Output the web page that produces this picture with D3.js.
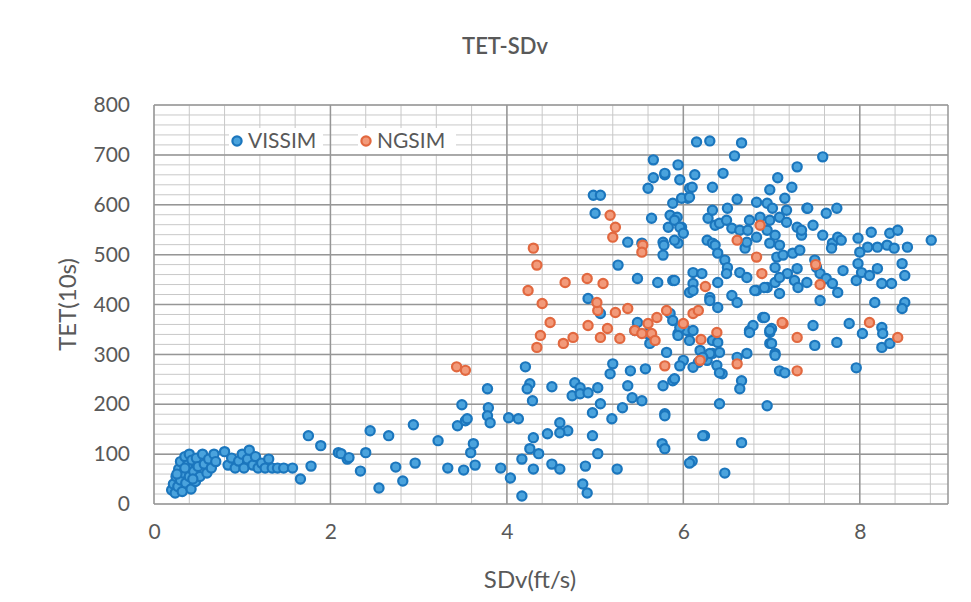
<!DOCTYPE html>
<html>
<head>
<meta charset="utf-8">
<script src="https://cdn.jsdelivr.net/npm/d3@7"></script>
<style>
    body { margin: 0; background: #fff; }
    text { font-family: Lato, "Open Sans", sans-serif; fill: #595959; }
</style>
</head>
<body>
<svg id="chart"></svg>
<script>
const xTicks = [0, 2, 4, 6, 8]
const yTicks = [0, 100, 200, 300, 400, 500, 600, 700, 800]
const seriesNames = ['VISSIM', 'NGSIM']

// VISSIM points [SDv, TET]
const vissim = [
    [0.20,28],[0.22,40],[0.24,22],[0.25,55],[0.27,35],[0.28,70],[0.30,48],[0.30,85],[0.32,25],[0.33,62],
    [0.35,95],[0.36,42],[0.38,78],[0.40,55],[0.40,100],[0.42,30],[0.43,88],[0.45,65],[0.47,45],[0.48,92],
    [0.50,75],[0.52,55],[0.55,100],[0.57,80],[0.60,62],[0.62,90],[0.65,72],[0.68,100],[0.70,85],[0.35,72],
    [0.26,60],[0.44,50],
    [0.80,105],[0.84,78],[0.88,92],[0.92,72],[0.96,86],[1.00,100],[1.02,72],[1.06,90],[1.08,108],[1.12,78],
    [1.15,95],[1.18,72],[1.22,82],[1.26,72],[1.30,90],[1.34,72],[1.40,72],[1.47,72],[1.57,72],[1.66,50],
    [1.78,76],[1.75,137],[1.89,117],[2.09,103],[2.19,90],
    [2.12,101],[2.21,93],[2.34,66],[2.40,103],[2.45,147],[2.55,32],[2.66,137],[2.74,74],[2.82,46],[2.96,82],
    [2.94,159],[3.22,127],[3.33,72],[3.51,68],[3.44,157],[3.53,167],[3.49,199],[3.55,171],[3.59,103],[3.62,121],
    [3.64,78],[3.78,231],[3.79,193],[3.78,177],[3.81,163],[3.93,72],[4.02,173],[4.13,171],[4.04,52],[4.17,16],
    [4.17,90],[4.21,275],[4.26,241],[4.23,231],[4.29,207],[4.30,133],[4.26,111],[4.36,101],[4.30,70],[4.46,141],
    [4.51,235],[4.60,163],[4.69,147],[4.60,143],[4.51,80],[4.60,70],[4.77,243],[4.83,233],[4.74,217],[4.83,221],
    [4.92,223],[5.03,233],[4.97,137],[5.03,101],[4.89,76],[4.86,40],[4.91,22],[5.06,201],[4.97,183],[5.19,171],
    [5.25,70],[5.31,193],[5.37,237],[5.42,213],[5.53,207],[5.20,281],[5.17,261],[5.40,267],[5.57,271],
    [4.98,619],[5.06,619],[5.00,583],[4.92,412],[5.06,382],[5.26,479],[5.37,525],[5.53,523],[5.48,452],[5.48,364],
    [5.45,348],[5.59,342],[5.62,322],[5.64,573],[5.60,633],[5.66,654],[5.66,690],[5.79,660],[5.77,525],[5.77,499],
    [5.71,444],[5.88,448],[5.94,523],[5.94,680],[5.96,650],[6.13,660],[6.07,633],[6.05,613],[6.33,635],[5.88,603],
    [5.85,579],[5.93,575],[5.98,555],[5.83,555],[6.28,573],[6.36,559],[6.27,529],[6.33,523],[6.11,464],[6.21,462],
    [6.07,424],[6.30,414],[5.94,342],[6.04,348],[6.07,328],[6.19,308],[6.33,302],[6.27,288],[6.38,278],[5.77,237],
    [5.88,247],[5.79,181],[5.76,121],[5.79,111],[6.10,86],[6.24,137],[5.78,519],[5.90,529],[6.15,726],[6.30,728],
    [6.66,724],[6.58,698],[5.79,663],[6.10,635],[6.45,663],[7.29,676],[7.07,654],[7.23,635],[6.98,630],[6.61,611],
    [6.50,593],[6.83,605],[6.95,603],[7.01,593],[7.15,613],[7.17,589],[7.40,593],[5.98,613],[6.07,615],[5.90,569],
    [5.96,555],[6.00,543],[6.33,589],[6.41,563],[6.49,569],[6.55,553],[6.64,549],[6.75,569],[6.87,575],[6.98,569],
    [7.09,575],[6.73,549],[6.83,535],[6.95,549],[7.04,539],[7.17,565],[7.29,555],[7.34,539],[6.36,519],[6.39,503],
    [6.47,489],[6.50,474],[6.70,513],[6.72,525],[6.98,523],[7.09,519],[7.06,495],[7.13,499],[7.24,503],[7.32,509],
    [7.29,472],[5.90,448],[6.11,442],[6.39,444],[6.49,462],[6.64,464],[6.72,454],[6.83,428],[6.95,434],[7.04,444],
    [7.09,422],[6.11,428],[6.30,408],[6.39,394],[6.55,418],[6.61,404],[5.85,382],[5.88,368],[6.75,348],[6.90,374],
    [7.00,352],[6.11,348],
    [6.79,358],[6.75,344],[6.98,344],[6.98,322],[7.04,302],[7.09,267],[7.15,263],[6.72,302],[6.61,294],[6.33,328],
    [6.39,324],[6.41,304],[6.30,302],[6.22,294],[6.17,284],[6.11,274],[5.96,354],[5.94,338],[6.00,288],[5.96,277],
    [5.81,304],[5.90,251],[6.44,261],[6.66,247],[6.64,231],[6.41,201],[6.95,197],[5.79,177],[6.22,137],[6.66,123],
    [6.07,82],[6.47,62],[7.58,696],
    [7.41,593],[7.62,583],[7.74,593],[7.47,559],[7.34,549],[7.58,539],[7.69,523],[7.75,535],[7.79,529],[7.68,513],
    [8.13,545],[8.34,543],[8.43,549],[7.98,533],[8.09,515],[8.20,515],[8.31,519],[8.39,513],[8.54,515],[8.81,529],
    [8.00,505],[8.48,482],[8.51,458],[7.49,489],[7.51,474],[7.55,462],[7.62,452],[7.69,442],[7.75,424],[7.55,408],
    [7.81,468],[7.98,482],[8.02,464],[7.96,448],[8.11,458],[8.20,472],[8.25,442],[8.36,442],[8.17,404],[8.51,404],
    [8.48,392],[7.47,358],[7.49,318],[7.74,324],[7.88,362],[8.03,342],[8.25,354],[8.26,342],[8.25,314],[8.34,322],
    [7.96,273],[7.18,462],[7.26,448],[7.30,434],[7.40,444],[7.04,474],[7.09,454],[6.92,434],[6.81,428],[6.92,374],
    [6.98,348],[7.00,322],[7.04,298],[6.41,263]
]

// NGSIM points [SDv, TET]
const ngsim = [
    [3.43,275],[3.53,268],[4.30,513],[4.34,479],[4.24,428],[4.40,402],[4.49,364],[4.38,338],[4.34,314],[4.66,444],
    [4.91,452],[5.09,442],[5.17,579],[5.23,555],[5.20,535],[5.54,519],[5.53,505],[4.92,358],[5.03,388],[5.02,404],
    [5.23,384],[5.37,392],[5.06,334],[5.28,332],[5.14,352],[5.45,348],[5.53,342],[5.60,362],[5.64,342],[5.70,374],
    [5.68,328],[5.81,388],[5.79,277],[6.00,362],[6.11,382],[6.17,388],[6.19,288],[4.75,334],[4.64,322],[6.61,529],
    [6.87,559],[6.83,495],[6.89,462],[6.25,436],[6.61,281],[6.38,344],[7.13,362],[7.29,334],[7.29,267],[7.12,364],
    [8.11,364],[8.43,334],[7.50,480],[7.55,440],[6.20,330]
]

const W = 971, H = 602
const margin = { left: 154, right: 23, top: 105, bottom: 98 }

const svg = d3.select('#chart')
    .attr('width', W)
    .attr('height', H)
    .style('background', '#fff')

const x = d3.scaleLinear().domain([0, 9]).range([margin.left, W - margin.right])
const y = d3.scaleLinear().domain([0, 800]).range([H - margin.bottom, margin.top])

// minor grid
const grid = svg.append('g')
grid.selectAll('.vminor')
    .data(d3.range(0, 9.0001, 0.4))
    .join('line')
    .attr('x1', d => x(d)).attr('x2', d => x(d))
    .attr('y1', y(0)).attr('y2', y(800))
    .attr('stroke', '#c8c8c8').attr('stroke-width', 1)
grid.selectAll('.hminor')
    .data(d3.range(0, 801, 20))
    .join('line')
    .attr('x1', x(0)).attr('x2', x(9))
    .attr('y1', d => y(d)).attr('y2', d => y(d))
    .attr('stroke', '#c8c8c8').attr('stroke-width', 1)

// major grid
grid.append('g').selectAll('line')
    .data(xTicks.concat([9]))
    .join('line')
    .attr('x1', d => x(d)).attr('x2', d => x(d))
    .attr('y1', y(0)).attr('y2', y(800))
    .attr('stroke', '#969696').attr('stroke-width', 1.5)
grid.append('g').selectAll('line')
    .data(yTicks)
    .join('line')
    .attr('x1', x(0)).attr('x2', x(9))
    .attr('y1', d => y(d)).attr('y2', d => y(d))
    .attr('stroke', '#969696').attr('stroke-width', 1.5)

// axes
const xAxis = d3.axisBottom(x).tickValues(xTicks).tickSize(0).tickPadding(20)
const yAxis = d3.axisLeft(y).tickValues(yTicks).tickSize(0).tickPadding(24)

svg.append('g')
    .attr('transform', 'translate(0,' + y(0) + ')')
    .call(xAxis)
    .call(g => g.select('.domain').remove())
    .selectAll('text')
    .style('font-size', '21px')
    .attr('fill', '#555')

svg.append('g')
    .attr('transform', 'translate(' + x(0) + ',0)')
    .call(yAxis)
    .call(g => g.select('.domain').remove())
    .selectAll('text')
    .style('font-size', '21px')
    .attr('fill', '#555')

// titles
svg.append('text')
    .attr('x', 505).attr('y', 54)
    .attr('text-anchor', 'middle')
    .style('font-size', '22px')
    .style('font-weight', '600')
    .attr('fill', '#4a4a4a')
    .text('TET-SDv')

svg.append('text')
    .attr('x', 530).attr('y', 588)
    .attr('text-anchor', 'middle')
    .style('font-size', '24px')
    .text('SDv(ft/s)')

svg.append('text')
    .attr('transform', 'translate(76,' + y(400) + ') rotate(-90)')
    .attr('text-anchor', 'middle')
    .style('font-size', '24px')
    .text('TET(10s)')

// points
const styles = {
    VISSIM: { fill: '#4aa3dd', stroke: '#1b76bd' },
    NGSIM: { fill: '#f29a7a', stroke: '#e2683f' }
}

svg.append('g').selectAll('circle')
    .data(vissim)
    .join('circle')
    .attr('cx', d => x(d[0]))
    .attr('cy', d => y(d[1]))
    .attr('r', 4.6)
    .attr('fill', styles.VISSIM.fill)
    .attr('stroke', styles.VISSIM.stroke)
    .attr('stroke-width', 2.2)

svg.append('g').selectAll('circle')
    .data(ngsim)
    .join('circle')
    .attr('cx', d => x(d[0]))
    .attr('cy', d => y(d[1]))
    .attr('r', 4.6)
    .attr('fill', styles.NGSIM.fill)
    .attr('stroke', styles.NGSIM.stroke)
    .attr('stroke-width', 2.2)

// legend
const legendPos = [237, 366]
const legend = svg.append('g')
seriesNames.forEach((name, i) => {
    legend.append('rect')
        .attr('x', legendPos[i] - 8).attr('y', 128)
        .attr('width', name === 'VISSIM' ? 94 : 98).attr('height', 26)
        .attr('fill', '#fff')
    legend.append('circle')
        .attr('cx', legendPos[i]).attr('cy', 141)
        .attr('r', 4.6)
        .attr('fill', styles[name].fill)
        .attr('stroke', styles[name].stroke)
        .attr('stroke-width', 2.2)
    legend.append('text')
        .attr('x', legendPos[i] + 11).attr('y', 148)
        .style('font-size', '21px')
        .attr('fill', '#404040')
        .text(name)
})
</script>
</body>
</html>
